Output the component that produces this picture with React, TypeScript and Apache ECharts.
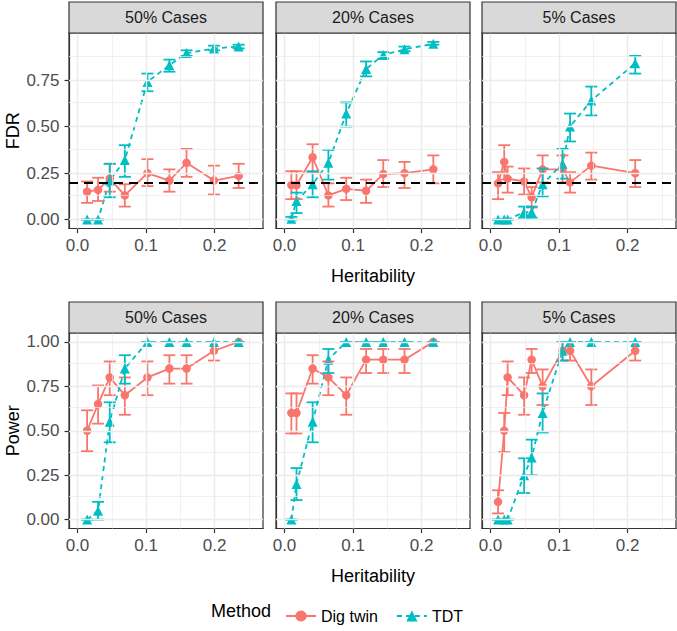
import React, { useEffect, useRef } from "react";
import * as echarts from "echarts";

// ---------------- data ----------------
const panelTitles = ["50% Cases", "20% Cases", "5% Cases"];
const methods = ["Dig twin", "TDT"];
const methodColors = ["#F8766D", "#00BFC4"];

const xTicks = [0, 0.1, 0.2];
const xMinor = [0.05, 0.15, 0.25];
const fdrTicks = [0, 0.25, 0.5, 0.75];
const powerTicks = [0, 0.25, 0.5, 0.75, 1];
const yMinor = [0.125, 0.375, 0.625, 0.875];
const fdrThreshold = 0.2;

// heritability values per panel
const h50 = [0.014, 0.03, 0.047, 0.069, 0.102, 0.134, 0.159, 0.199, 0.235];
const h20 = [0.01, 0.0175, 0.041, 0.064, 0.09, 0.119, 0.144, 0.175, 0.217];
const h5 = [0.011, 0.02, 0.025, 0.049, 0.06, 0.076, 0.105, 0.116, 0.147, 0.211];

// FDR - Dig twin
const fdrTwin50 = [0.15, 0.16, 0.22, 0.13, 0.25, 0.21, 0.305, 0.21, 0.235];
const fdrTwin50Lo = [0.09, 0.1, 0.15, 0.07, 0.18, 0.15, 0.23, 0.135, 0.17];
const fdrTwin50Hi = [0.205, 0.225, 0.3, 0.19, 0.325, 0.27, 0.38, 0.29, 0.3];
const fdrTwin20 = [0.185, 0.185, 0.335, 0.13, 0.165, 0.155, 0.245, 0.25, 0.27];
const fdrTwin20Lo = [0.11, 0.11, 0.255, 0.07, 0.105, 0.09, 0.175, 0.17, 0.195];
const fdrTwin20Hi = [0.26, 0.26, 0.405, 0.195, 0.225, 0.215, 0.32, 0.31, 0.345];
const fdrTwin5 = [0.195, 0.31, 0.22, 0.205, 0.12, 0.27, 0.27, 0.2, 0.29, 0.25];
const fdrTwin5Lo = [0.11, 0.215, 0.145, 0.135, 0.065, 0.2, 0.2, 0.145, 0.215, 0.175];
const fdrTwin5Hi = [0.255, 0.4, 0.285, 0.275, 0.175, 0.345, 0.345, 0.255, 0.36, 0.32];

// FDR - TDT
const fdrTdt50 = [0, 0, 0.21, 0.32, 0.74, 0.83, 0.895, 0.92, 0.93];
const fdrTdt50Lo = [0, 0, 0.12, 0.23, 0.69, 0.795, 0.88, 0.91, 0.92];
const fdrTdt50Hi = [0, 0, 0.3, 0.4, 0.785, 0.86, 0.91, 0.935, 0.94];
const fdrTdt20 = [0.005, 0.1, 0.19, 0.305, 0.57, 0.81, 0.885, 0.915, 0.945];
const fdrTdt20Lo = [0, 0.035, 0.12, 0.215, 0.5, 0.77, 0.865, 0.905, 0.94];
const fdrTdt20Hi = [0.015, 0.145, 0.26, 0.375, 0.63, 0.85, 0.9, 0.93, 0.955];
const fdrTdt5 = [0, 0, 0, 0.04, 0.04, 0.19, 0.3, 0.5, 0.64, 0.84];
const fdrTdt5Lo = [0, 0, 0, 0.01, 0.01, 0.125, 0.22, 0.42, 0.56, 0.785];
const fdrTdt5Hi = [0, 0, 0, 0.07, 0.07, 0.275, 0.38, 0.57, 0.715, 0.88];

// Power - Dig twin
const powTwin50 = [0.5, 0.65, 0.8, 0.7, 0.8, 0.85, 0.85, 0.95, 1];
const powTwin50Lo = [0.385, 0.54, 0.7, 0.59, 0.7, 0.765, 0.765, 0.895, 1];
const powTwin50Hi = [0.615, 0.755, 0.89, 0.8, 0.89, 0.925, 0.925, 1, 1];
const powTwin20 = [0.6, 0.6, 0.85, 0.8, 0.7, 0.9, 0.9, 0.9, 1];
const powTwin20Lo = [0.485, 0.485, 0.765, 0.7, 0.59, 0.825, 0.825, 0.825, 1];
const powTwin20Hi = [0.71, 0.71, 0.925, 0.89, 0.8, 0.96, 0.96, 0.96, 1];
const powTwin5 = [0.1, 0.5, 0.8, 0.7, 0.9, 0.75, 0.95, 0.95, 0.75, 0.95];
const powTwin5Lo = [0.035, 0.38, 0.7, 0.59, 0.825, 0.645, 0.895, 0.895, 0.645, 0.895];
const powTwin5Hi = [0.165, 0.6, 0.89, 0.8, 0.96, 0.845, 1, 1, 0.845, 1];

// Power - TDT
const powTdt50 = [0, 0.05, 0.55, 0.85, 1, 1, 1, 1, 1];
const powTdt50Lo = [0, 0, 0.435, 0.765, 1, 1, 1, 1, 1];
const powTdt50Hi = [0, 0.1, 0.66, 0.925, 1, 1, 1, 1, 1];
const powTdt20 = [0, 0.2, 0.55, 0.9, 1, 1, 1, 1, 1];
const powTdt20Lo = [0, 0.11, 0.435, 0.825, 1, 1, 1, 1, 1];
const powTdt20Hi = [0, 0.29, 0.66, 0.96, 1, 1, 1, 1, 1];
const powTdt5 = [0, 0, 0, 0.25, 0.35, 0.6, 0.95, 1, 1, 1];
const powTdt5Lo = [0, 0, 0, 0.15, 0.25, 0.49, 0.895, 1, 1, 1];
const powTdt5Hi = [0, 0, 0, 0.345, 0.45, 0.71, 1, 1, 1, 1];

// ---------------- layout ----------------
const FONT = "'Liberation Sans', Arial, Helvetica, sans-serif";
const PANEL_LEFT = [69, 276, 482];
const PANEL_W = 194;
const ROW_TOP = [33, 333];
const PANEL_H = 195.5;
const STRIP_H = 31;
const X_RANGE = [-0.0124, 0.2705];
const Y_RANGES = [
  [-0.0478, 1.003],
  [-0.05, 1.05],
];

const hs = [h50, h20, h5];
const rows = [
  {
    title: "FDR",
    ticks: fdrTicks,
    fmt: (v: number) => v.toFixed(2),
    data: [
      [
        [fdrTwin50, fdrTwin50Lo, fdrTwin50Hi],
        [fdrTdt50, fdrTdt50Lo, fdrTdt50Hi],
      ],
      [
        [fdrTwin20, fdrTwin20Lo, fdrTwin20Hi],
        [fdrTdt20, fdrTdt20Lo, fdrTdt20Hi],
      ],
      [
        [fdrTwin5, fdrTwin5Lo, fdrTwin5Hi],
        [fdrTdt5, fdrTdt5Lo, fdrTdt5Hi],
      ],
    ],
  },
  {
    title: "Power",
    ticks: powerTicks,
    fmt: (v: number) => v.toFixed(2),
    data: [
      [
        [powTwin50, powTwin50Lo, powTwin50Hi],
        [powTdt50, powTdt50Lo, powTdt50Hi],
      ],
      [
        [powTwin20, powTwin20Lo, powTwin20Hi],
        [powTdt20, powTdt20Lo, powTdt20Hi],
      ],
      [
        [powTwin5, powTwin5Lo, powTwin5Hi],
        [powTdt5, powTdt5Lo, powTdt5Hi],
      ],
    ],
  },
];

function buildOption() {
  const grid: any[] = [];
  const xAxis: any[] = [];
  const yAxis: any[] = [];
  const series: any[] = [];
  const graphic: any[] = [];
  const axisColor = "#333333";
  const gridColor = "#EBEBEB";

  rows.forEach((row, r) => {
    for (let c = 0; c < 3; c++) {
      const gi = r * 3 + c;
      grid.push({
        left: PANEL_LEFT[c],
        top: ROW_TOP[r],
        width: PANEL_W,
        height: PANEL_H,
        show: true,
        backgroundColor: "#FFFFFF",
        borderColor: axisColor,
        borderWidth: 1.2,
      });
      xAxis.push({
        type: "value",
        gridIndex: gi,
        min: X_RANGE[0],
        max: X_RANGE[1],
        axisLine: { show: true, onZero: false, lineStyle: { color: axisColor, width: 1.2 } },
        axisTick: { show: true, length: 4.5, customValues: xTicks, lineStyle: { color: axisColor, width: 1.2 } },
        axisLabel: {
          show: true,
          customValues: xTicks,
          formatter: (v: number) => v.toFixed(1),
          color: "#4D4D4D",
          fontSize: 17,
          fontFamily: FONT,
          margin: 8,
        },
        splitLine: { show: false },
        name: c === 1 ? "Heritability" : "",
        nameLocation: "middle",
        nameGap: 38,
        nameTextStyle: { color: "#000000", fontSize: 18, fontFamily: FONT },
      });
      yAxis.push({
        type: "value",
        gridIndex: gi,
        min: Y_RANGES[r][0],
        max: Y_RANGES[r][1],
        axisLine: { show: true, onZero: false, lineStyle: { color: axisColor, width: 1.2 } },
        axisTick: {
          show: c === 0,
          length: 4.5,
          customValues: row.ticks,
          lineStyle: { color: axisColor, width: 1.2 },
        },
        axisLabel: {
          show: c === 0,
          customValues: row.ticks,
          formatter: row.fmt,
          color: "#4D4D4D",
          fontSize: 17,
          fontFamily: FONT,
          margin: 9.5,
        },
        splitLine: { show: false },
        name: c === 0 ? row.title : "",
        nameLocation: "middle",
        nameGap: 47,
        nameTextStyle: { color: "#000000", fontSize: 18, fontFamily: FONT },
      });

      // grid lines (panel background)
      const gl: any[] = [];
      xMinor.forEach((v) => gl.push({ xAxis: v, lineStyle: { width: 0.7 } }));
      yMinor.forEach((v) => gl.push({ yAxis: v, lineStyle: { width: 0.7 } }));
      xTicks.forEach((v) => gl.push({ xAxis: v, lineStyle: { width: 1.4 } }));
      row.ticks.forEach((v) => gl.push({ yAxis: v, lineStyle: { width: 1.4 } }));
      series.push({
        type: "line",
        name: "__grid" + gi,
        xAxisIndex: gi,
        yAxisIndex: gi,
        data: [],
        silent: true,
        z: 1,
        markLine: {
          silent: true,
          symbol: ["none", "none"],
          label: { show: false },
          emphasis: { disabled: true },
          lineStyle: { type: "solid", color: gridColor, width: 1.4 },
          data: gl,
        },
      });

      // data lines + points
      methods.forEach((m, k) => {
        const [mean] = row.data[c][k];
        series.push({
          type: "line",
          name: m,
          xAxisIndex: gi,
          yAxisIndex: gi,
          data: hs[c].map((x, i) => [x, mean[i]]),
          symbol: k === 0 ? "circle" : "triangle",
          symbolSize: k === 0 ? 8.5 : 10,
          showSymbol: true,
          showAllSymbol: true,
          itemStyle: { color: methodColors[k] },
          lineStyle: { color: methodColors[k], width: 1.8, type: k === 0 ? "solid" : [5, 4] },
          emphasis: { disabled: true },
          z: 3,
        });
      });
      // error bars
      methods.forEach((m, k) => {
        const [, lo, hi] = row.data[c][k];
        const color = methodColors[k];
        series.push({
          type: "custom",
          name: m,
          xAxisIndex: gi,
          yAxisIndex: gi,
          data: hs[c].map((x, i) => [x, lo[i], hi[i]]),
          encode: { x: 0, y: [1, 2] },
          silent: true,
          z: 4,
          renderItem: (params: any, api: any) => {
            const x = api.value(0);
            const pLo = api.coord([x, api.value(1)]);
            const pHi = api.coord([x, api.value(2)]);
            const w = 6;
            const style = { stroke: color, lineWidth: 1.8, fill: "none" };
            return {
              type: "group",
              children: [
                { type: "line", shape: { x1: pLo[0], y1: pLo[1], x2: pHi[0], y2: pHi[1] }, style },
                { type: "line", shape: { x1: pLo[0] - w, y1: pLo[1], x2: pLo[0] + w, y2: pLo[1] }, style },
                { type: "line", shape: { x1: pHi[0] - w, y1: pHi[1], x2: pHi[0] + w, y2: pHi[1] }, style },
              ],
            };
          },
        });
      });

      if (r === 0) {
        series.push({
          type: "line",
          name: "__thr" + gi,
          xAxisIndex: gi,
          yAxisIndex: gi,
          data: [],
          silent: true,
          z: 5,
          markLine: {
            silent: true,
            symbol: ["none", "none"],
            label: { show: false },
            emphasis: { disabled: true },
            lineStyle: { type: [9, 6], color: "#000000", width: 1.8 },
            data: [{ yAxis: fdrThreshold }],
          },
        });
      }

      // strip
      const sTop = ROW_TOP[r] - STRIP_H;
      graphic.push({
        type: "rect",
        shape: { x: PANEL_LEFT[c], y: sTop, width: PANEL_W, height: STRIP_H },
        style: { fill: "#D9D9D9", stroke: axisColor, lineWidth: 1.2 },
        z: 10,
      });
      graphic.push({
        type: "text",
        x: PANEL_LEFT[c] + PANEL_W / 2,
        y: sTop + STRIP_H / 2,
        style: {
          text: panelTitles[c],
          textAlign: "center",
          textVerticalAlign: "middle",
          fontSize: 16,
          fontFamily: FONT,
          fill: "#1A1A1A",
        },
        z: 11,
      });
    }
  });

  graphic.push({
    type: "text",
    x: 211,
    y: 611,
    style: {
      text: "Method",
      textAlign: "left",
      textVerticalAlign: "middle",
      fontSize: 18,
      fontFamily: FONT,
      fill: "#000000",
    },
  });

  return {
    animation: false,
    backgroundColor: "#FFFFFF",
    textStyle: { fontFamily: FONT },
    grid,
    xAxis,
    yAxis,
    series,
    graphic,
    legend: {
      data: methods,
      left: 280,
      top: 603,
      itemWidth: 30,
      itemHeight: 14,
      itemGap: 18,
      selectedMode: false,
      textStyle: { fontSize: 16, color: "#000000", fontFamily: FONT },
    },
  };
}

export default function App() {
  const ref = useRef<HTMLDivElement>(null);
  useEffect(() => {
    if (!ref.current) return;
    const chart = echarts.init(ref.current, undefined, { renderer: "svg" });
    chart.setOption(buildOption() as any);
    return () => chart.dispose();
  }, []);
  return (
    <div
      ref={ref}
      style={{ position: "absolute", left: 0, top: 0, width: 677, height: 631 }}
    />
  );
}
